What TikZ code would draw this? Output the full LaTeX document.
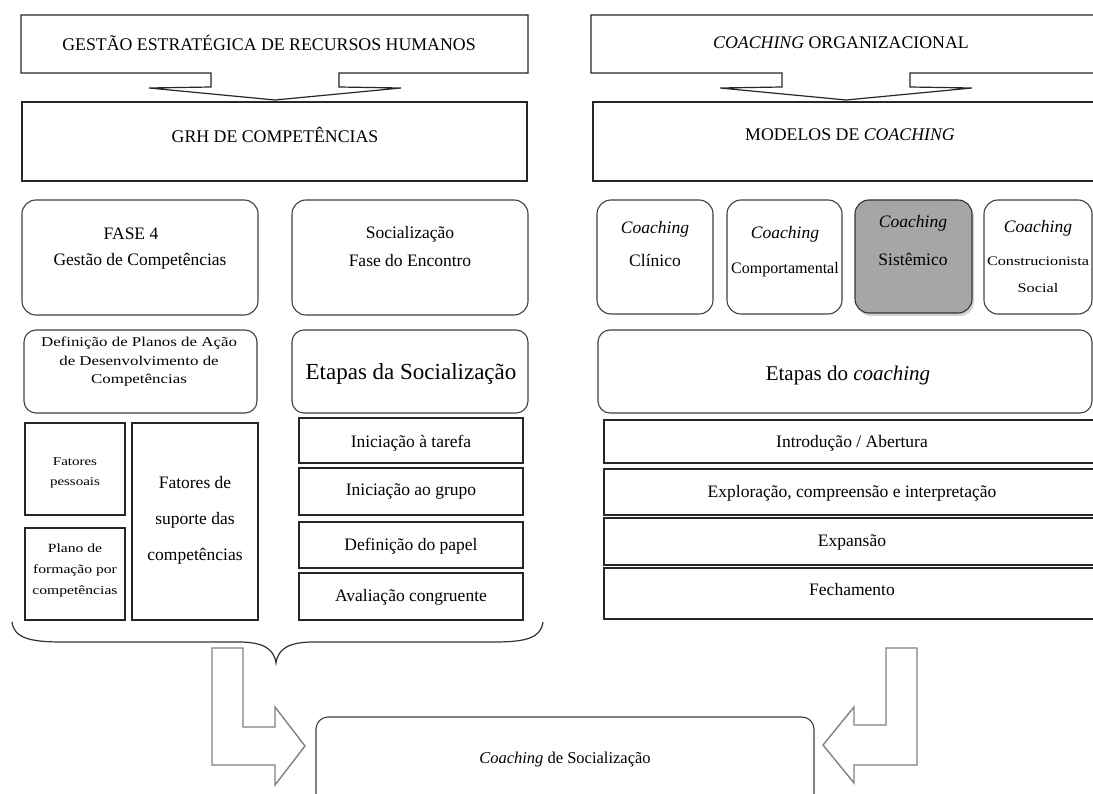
\documentclass[tikz,border=0pt]{standalone}
\usepackage{fontspec}
\setmainfont{Liberation Serif}
\newfontfamily\widefont[FakeStretch=1.25]{Liberation Serif}
\usetikzlibrary{fit,shadows}
\newcommand\myfs[2]{\fontsize{#1}{#2}\selectfont}
\tikzset{
  callout/.style={draw=black!85, line width=1.2pt, line join=miter},
  sq/.style={draw=black!85, line width=1.3pt, inner sep=0pt},
  rb/.style={draw=black!75, line width=1.1pt, rounded corners=14pt, inner sep=0pt},
  stk/.style={draw=black!85, line width=1.8pt, inner sep=0pt},
  bentarrow/.style={draw=black!50, line width=1.4pt, line join=miter},
  bracestyle/.style={draw=black!80, line width=1.2pt},
  lbl/.style={inner sep=0pt, align=center},
  hd/.style={lbl, font=\myfs{17.8}{22}},
  bt/.style={lbl, font=\myfs{17.5}{21}},
}
\begin{document}
\begin{tikzpicture}[x=1pt,y=-1pt]
\useasboundingbox (0,0) rectangle (1093,794);
\fill[white] (0,0) rectangle (1093,794);
\clip (0,0) rectangle (1093,794);

% ---------- left column ----------
\draw[callout] (21,15) -- (528,15) -- (528,73) -- (339,73) -- (339,87) -- (401,88)
  -- (275,100) -- (149,88) -- (211,87) -- (211,73) -- (21,73) -- cycle;
\node[hd] (gerh) at (269,43) {GESTÃO ESTRATÉGICA DE RECURSOS HUMANOS};
\node[sq, fit={(22,102) (527,181)}] (grh) {};
\node[hd] (grht) at (275,135) {GRH DE COMPETÊNCIAS};

\node[rb, fit={(22,200) (258,315)}] (fase) {};
\node[bt] (fase1) at (131,234) {FASE 4};
\node[bt] (fase2) at (140,261) {Gestão de Competências};

\node[rb, fit={(292,200) (528,315)}] (soc) {};
\node[bt] (soc1) at (410,234) {Socialização};
\node[bt] (soc2) at (410,261) {Fase do Encontro};

\node[rb, rounded corners=12pt, fit={(24,330) (257,413)}] (def) {};
\node[lbl, font=\widefont\myfs{13.5}{18.5}] (deft) at (139,362)
  {Definição de Planos de Ação\\de Desenvolvimento de\\Competências};

\node[rb, rounded corners=12pt, fit={(292,330) (528,413)}] (ets) {};
\node[lbl, font=\myfs{23}{26}] (etst) at (411,374) {Etapas da Socialização};

\node[sq, fit={(25,423) (125,515)}] (fp) {};
\node[lbl, font=\widefont\myfs{12}{20}] (fpt) at (75,473) {Fatores\\pessoais};
\node[sq, fit={(25,528) (125,620)}] (pf) {};
\node[lbl, font=\widefont\myfs{12.5}{21}] (pft) at (75,570) {Plano de\\formação por\\competências};
\node[sq, fit={(132,423) (258,620)}] (fs) {};
\node[lbl, font=\myfs{17.5}{36}] (fst) at (195,520) {Fatores de\\suporte das\\competências};

\node[stk, fit={(299,418) (523,463)}] (s1) {};
\node[bt] (s1t) at (411,443) {Iniciação à tarefa};
\node[stk, fit={(299,468) (523,515)}] (s2) {};
\node[bt] (s2t) at (411,491) {Iniciação ao grupo};
\node[stk, fit={(299,522) (523,568)}] (s3) {};
\node[bt] (s3t) at (411,546) {Definição do papel};
\node[stk, fit={(299,573) (523,620)}] (s4) {};
\node[bt] (s4t) at (411,597) {Avaliação congruente};

\coordinate (brL) at (12,622);
\coordinate (brR) at (543,622);
\coordinate (brT) at (276,663);
\draw[bracestyle] (brL) .. controls (14,638) and (30,642) .. (62,642) -- (238,642)
  .. controls (262,642) and (274,648) .. (brT)
  .. controls (278,648) and (290,642) .. (314,642) -- (494,642)
  .. controls (526,642) and (541,638) .. (brR);

% ---------- right column ----------
\draw[callout] (591,15) -- (1100,15) -- (1100,73) -- (910,73) -- (910,87) -- (972,88)
  -- (846,100) -- (720,88) -- (782,87) -- (782,73) -- (591,73) -- cycle;
\node[hd] (coorg) at (841,43) {\textit{COACHING} ORGANIZACIONAL};
\node[sq, fit={(593,102) (1100,181)}] (mod) {};
\node[hd] (modt) at (850,135) {MODELOS DE \textit{COACHING}};

\node[rb, fit={(597,200) (713,314)}] (m1) {};
\node[bt] (m1a) at (655,229) {\textit{Coaching}};
\node[bt] (m1b) at (655,261) {Clínico};
\node[rb, fit={(727,200) (842,314)}] (m2) {};
\node[bt] (m2a) at (785,234) {\textit{Coaching}};
\node[lbl, font=\myfs{16}{20}] (m2b) at (785,270) {Comportamental};
\node[rb, fill=black!35, draw=black!80, drop shadow={shadow xshift=2pt, shadow yshift=-3pt, opacity=0.35},
  fit={(855,200) (972,313)}] (m3) {};
\node[bt] (m3a) at (913,223) {\textit{Coaching}};
\node[bt] (m3b) at (913,259) {Sistêmico};
\node[rb, fit={(984,200) (1092,314)}] (m4) {};
\node[bt] (m4a) at (1038,228) {\textit{Coaching}};
\node[lbl, font=\widefont\myfs{13}{16}] (m4b) at (1038,261) {Construcionista};
\node[lbl, font=\widefont\myfs{13}{16}] (m4c) at (1038,288) {Social};

\node[rb, rounded corners=12pt, fit={(598,330) (1092,413)}] (etc) {};
\node[lbl, font=\myfs{21}{24}] (etct) at (848,375) {Etapas do \textit{coaching}};

\node[stk, fit={(604,420) (1100,463)}] (r1) {};
\node[bt] (r1t) at (852,443) {Introdução / Abertura};
\node[stk, fit={(604,469) (1100,515)}] (r2) {};
\node[bt] (r2t) at (852,493) {Exploração, compreensão e interpretação};
\node[stk, fit={(604,518) (1100,565)}] (r3) {};
\node[bt] (r3t) at (852,542) {Expansão};
\node[stk, fit={(604,568) (1100,619)}] (r4) {};
\node[bt] (r4t) at (852,590) {Fechamento};

% ---------- bottom ----------
\node[rb, rounded corners=12pt, fit={(316,717) (814,840)}] (cs) {};
\node[lbl, font=\myfs{16.5}{20}] (cst) at (565,760) {\textit{Coaching} de Socialização};

\draw[bentarrow] (212,648) -- (243,648) -- (243,727) -- (275,727) -- (275,707)
  -- (305,746) -- (275,785) -- (275,765) -- (212,765) -- cycle;
\draw[bentarrow] (917,648) -- (886,648) -- (886,725) -- (854,725) -- (854,707)
  -- (823,745) -- (854,783) -- (854,765) -- (917,765) -- cycle;
\end{tikzpicture}
\end{document}
